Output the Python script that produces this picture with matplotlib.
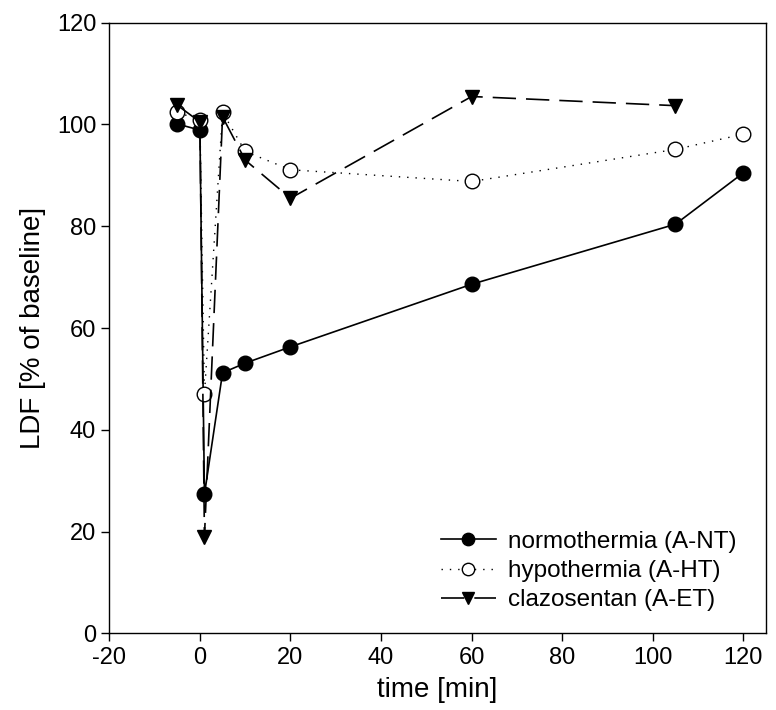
import matplotlib
matplotlib.use("Agg")
import matplotlib.pyplot as plt

plt.rcParams['font.family'] = ['Liberation Sans', 'DejaVu Sans']
plt.rcParams['axes.unicode_minus'] = False

# time points [min]
t_nt = [-5, 0, 1, 5, 10, 20, 60, 105, 120]
t_ht = [-5, 0, 1, 5, 10, 20, 60, 105, 120]
t_et = [-5, 0, 1, 5, 10, 20, 60, 105]

# LDF values [% of baseline]
ldf_nt = [100.1, 98.9, 27.3, 51.2, 53.1, 56.3, 68.6, 80.4, 90.5]
ldf_ht = [102.4, 100.9, 47.0, 102.4, 94.7, 91.1, 88.8, 95.1, 98.1]
ldf_et = [103.8, 100.5, 19.0, 101.5, 93.0, 85.5, 105.5, 103.7]

labels = ['normothermia (A-NT)', 'hypothermia (A-HT)', 'clazosentan (A-ET)']

tick_size = 17
label_size = 20
legend_size = 17.5

fig = plt.figure(figsize=(7.76, 7.10), dpi=100)
ax = fig.add_axes([0.1409, 0.108, 0.8462, 0.860])

ax.plot(t_nt, ldf_nt, color='black', linestyle='-', linewidth=1.2,
        marker='o', markersize=10.5, markerfacecolor='black',
        markeredgecolor='black', label=labels[0])
ax.plot(t_ht, ldf_ht, color='black', linestyle=(0, (1, 5)), linewidth=1.0,
        marker='o', markersize=10.5, markerfacecolor='white',
        markeredgecolor='black', markeredgewidth=1.0, label=labels[1])
ax.plot(t_et, ldf_et, color='black', linestyle=(0, (14, 6)), linewidth=1.2,
        marker='v', markersize=10.5, markerfacecolor='black',
        markeredgecolor='black', label=labels[2])

ax.set_xlim(-20, 125)
ax.set_ylim(0, 120)
ax.set_xticks(range(-20, 121, 20))
ax.set_yticks(range(0, 121, 20))

ax.set_xlabel('time [min]', fontsize=label_size, labelpad=6)
ax.set_ylabel('LDF [% of baseline]', fontsize=label_size, labelpad=8)

ax.tick_params(axis='both', direction='out', length=6, width=1,
               labelsize=tick_size)
for sp in ax.spines.values():
    sp.set_linewidth(1.0)

leg = ax.legend(loc='lower right', frameon=False, fontsize=legend_size,
                handlelength=2.25, handletextpad=0.5, labelspacing=0.3,
                markerscale=0.85, bbox_to_anchor=(0.988, 0.0))

fig.savefig('out.png', dpi=100)
